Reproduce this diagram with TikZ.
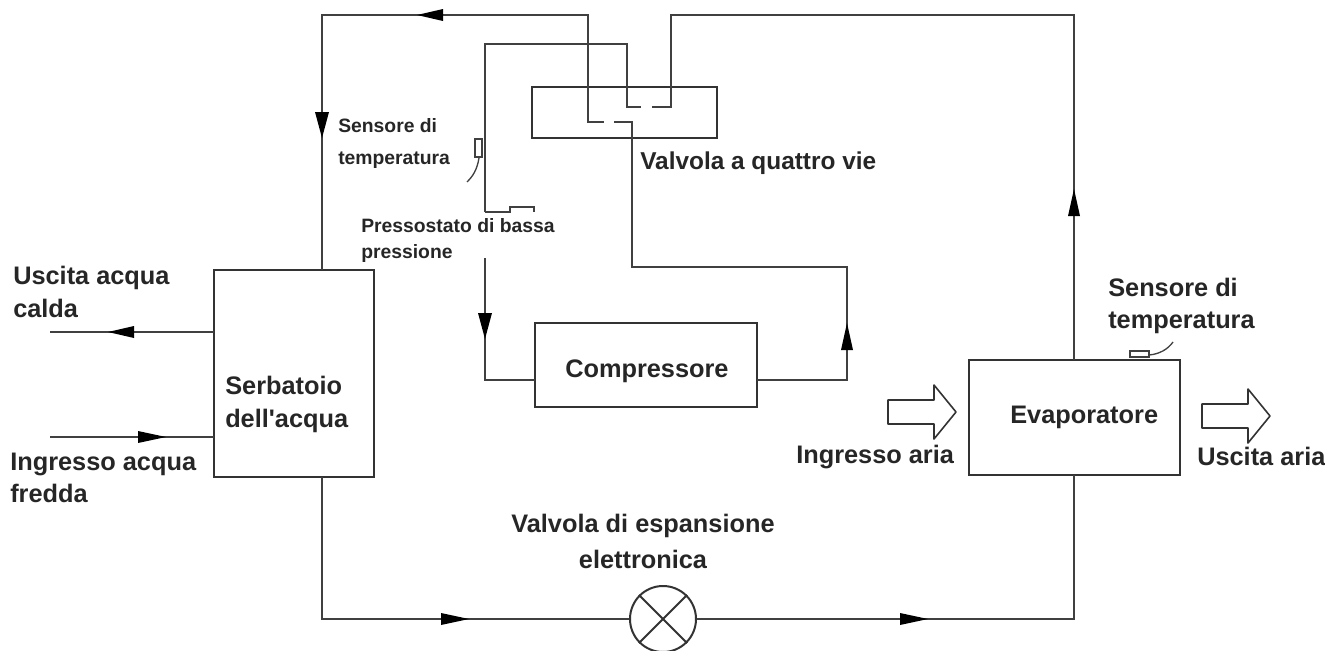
\documentclass[tikz,border=0pt]{standalone}
\usepackage{fontspec}
\newfontfamily\labfont{Liberation Sans}
\tikzset{
  x=0.75pt,y=-0.75pt,
  pipe/.style={draw=black!75,line width=1.5pt},
  blockbox/.style={draw=black!80,line width=1.5pt,fill=none,inner sep=0pt,outer sep=0pt},
  biglabel/.style={font=\labfont\fontsize{19}{24}\selectfont\bfseries,text=black!85,align=left,inner sep=0pt},
  midlabel/.style={font=\labfont\fontsize{18.3}{24}\selectfont\bfseries,text=black!85,align=left,inner sep=0pt},
  smalllabel/.style={font=\labfont\fontsize{14.5}{24}\selectfont\bfseries,text=black!85,align=left,inner sep=0pt},
  tipL/.pic={\fill[black] (13,-6)--(-13,0)--(13,6)--cycle;},
  tipR/.pic={\fill[black] (-14,-6)--(14,0)--(-14,6)--cycle;},
  tipU/.pic={\fill[black] (-6,14)--(0,-13)--(6,14)--cycle;},
  tipD/.pic={\fill[black] (-7,-13)--(0,13)--(7,-13)--cycle;},
  hollow/.pic={\draw[black!80,line width=1.2pt,line join=round] (-34,-12)--(12,-12)--(12,-27)--(34,0)--(12,27)--(12,12)--(-34,12)--cycle;},
}
\begin{document}
\begin{tikzpicture}
\useasboundingbox (0,0) rectangle (1325,650);
% blocks
\draw[blockbox] (213.5,270) rectangle (373.5,477);
\draw[blockbox] (535,323) rectangle (757,407);
\draw[blockbox] (969,360) rectangle (1180,475);
\draw[blockbox] (532,87) rectangle (717,138);
\node[draw=black!80,line width=1.5pt,circle,minimum size=49.5pt,inner sep=0pt] (exv) at (663,619) {};
\draw[black!80,line width=1.5pt] (exv.45)--(exv.225) (exv.135)--(exv.315);
% pipes
\draw[pipe] (322,270)--(322,15)--(588,15)--(588,122)--(604,122);
\draw[pipe] (614,122)--(632,122)--(632,267)--(847,267)--(847,380)--(757,380);
\draw[pipe] (485,212)--(485,44)--(627,44)--(627,107)--(641,107);
\draw[pipe] (652,107)--(671,107)--(671,15)--(1074,15)--(1074,360);
\draw[pipe] (485,258)--(485,380)--(535,380);
\draw[pipe] (485,212)--(510,212)--(510,207)--(534,207)--(534,212);
\draw[pipe] (322,477)--(322,619)--(exv.west);
\draw[pipe] (exv.east)--(1074,619)--(1074,475);
\draw[pipe] (50,332)--(213.5,332);
\draw[pipe] (50,437)--(213.5,437);
% arrow tips
\pic at (430,15) {tipL};
\pic at (322,125) {tipD};
\pic at (485,326) {tipD};
\pic at (847,336) {tipU};
\pic at (1074,202) {tipU};
\pic at (455,619) {tipR};
\pic at (914,619) {tipR};
\pic at (121,332) {tipL};
\pic at (152,437) {tipR};
\pic at (922,412) {hollow};
\pic at (1236,416) {hollow};
% sensors
\draw[black!75,line width=1pt] (475,139) rectangle (482,157);
\draw[black!75,line width=1pt] (479,158) .. controls (477,170) and (473,176) .. (467,182);
\draw[black!75,line width=1pt] (1130,351) rectangle (1149,357);
\draw[black!75,line width=1pt] (1149,355) .. controls (1160,354) and (1168,349) .. (1173,342);
% labels
\node[biglabel,anchor=west] (t1) at (565,371) {Compressore};
\node[biglabel,anchor=north west] (t2) at (225,376) {Serbatoio\\[1pt]dell'acqua};
\node[biglabel,anchor=west] (t3) at (1010,417) {Evaporatore};
\node[midlabel,anchor=west] (t4) at (640,163) {Valvola a quattro vie};
\node[biglabel,anchor=center,align=center] (t5) at (643,541) {Valvola di espansione\\[3pt]elettronica};
\node[biglabel,anchor=west] (t6) at (796,457) {Ingresso aria};
\node[biglabel,anchor=west] (t7) at (1197,456) {Uscita aria};
\node[biglabel,anchor=north west] (t8) at (13,266) {Uscita acqua\\[1pt]calda};
\node[biglabel,anchor=north west] (t9) at (10,453) {Ingresso acqua\\fredda};
\node[biglabel,anchor=north west] (t10) at (1108,278) {Sensore di\\temperatura};
\node[smalllabel,anchor=north west] (t11) at (338,118) {Sensore di\\temperatura};
\node[smalllabel,anchor=north west] (t12) at (361,218) {Pressostato di bassa\\[-4pt]pressione};
\end{tikzpicture}
\end{document}
